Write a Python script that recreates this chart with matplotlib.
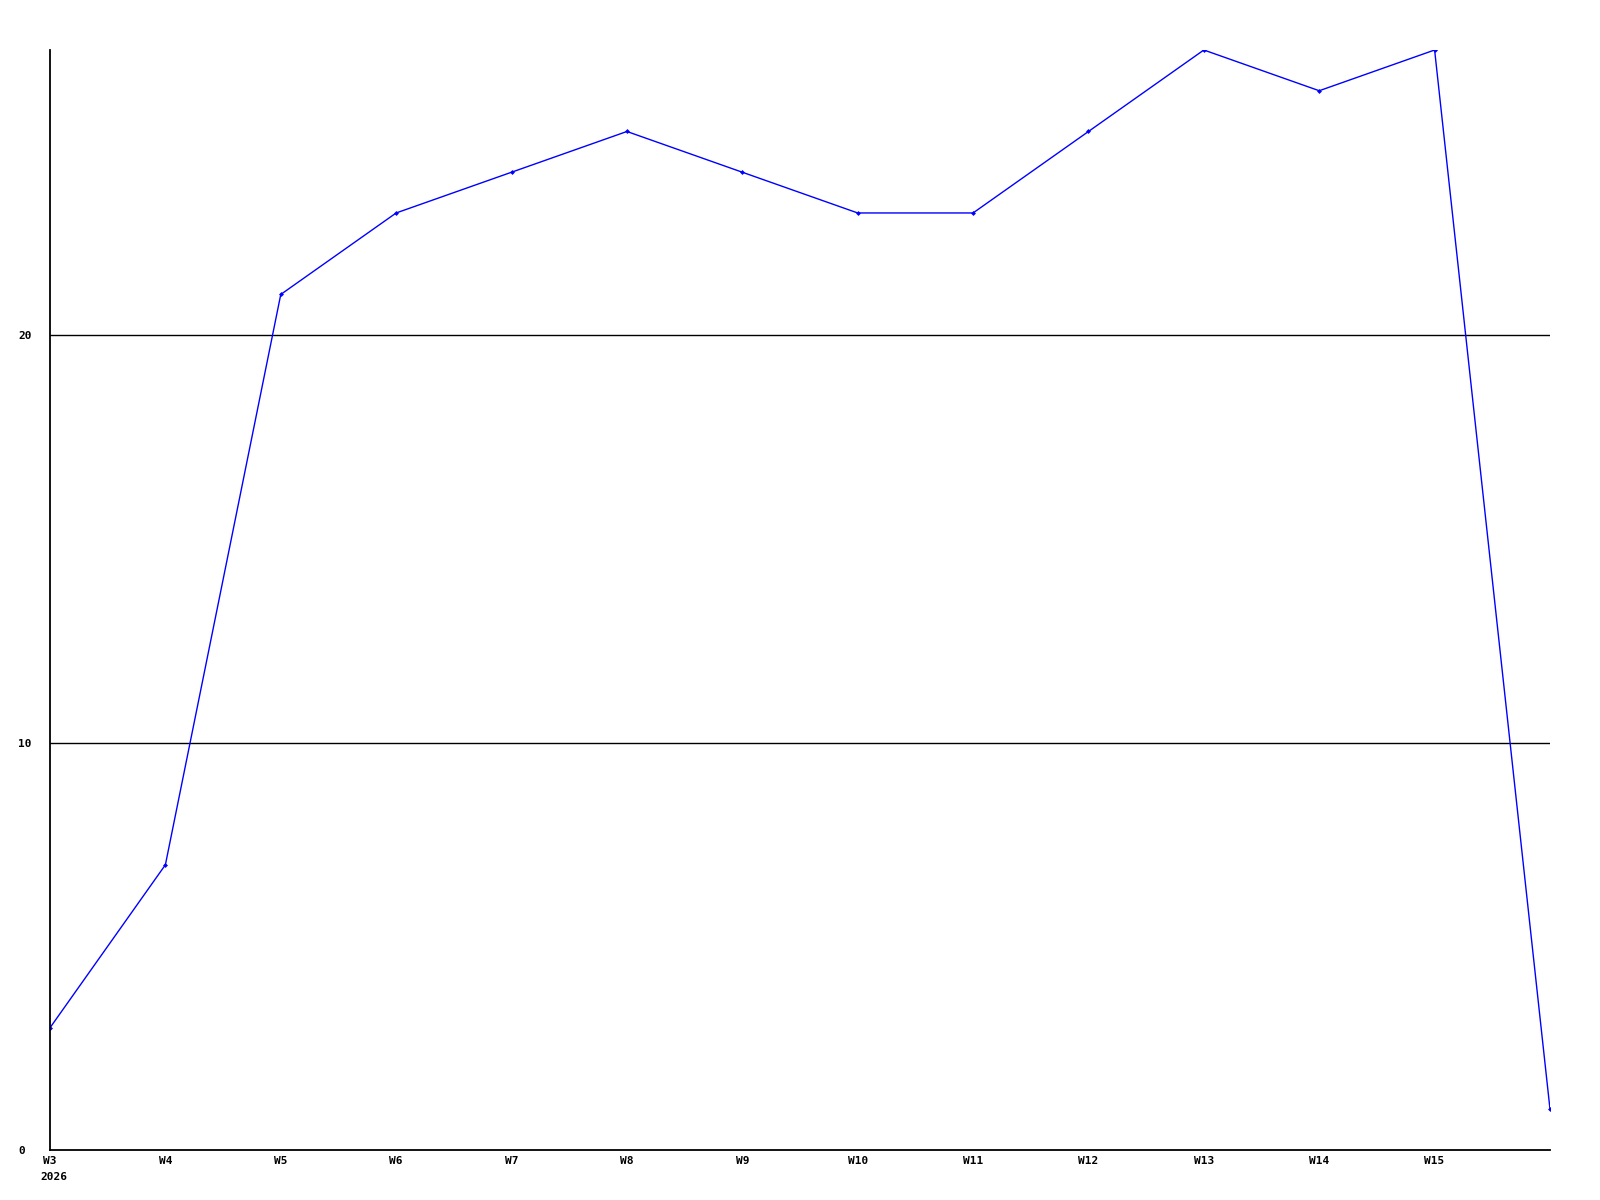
import matplotlib
matplotlib.use('Agg')
import matplotlib.pyplot as plt

weeks = ['W3', 'W4', 'W5', 'W6', 'W7', 'W8', 'W9', 'W10', 'W11', 'W12', 'W13', 'W14', 'W15', 'W16']
values = [3, 7, 21, 23, 24, 25, 24, 23, 23, 25, 27, 26, 27, 1]
tick_labels = weeks[:-1]
y_ticks = [0, 10, 20]
year = '2026'

W, H = 1600, 1200
fig = plt.figure(figsize=(16, 12), dpi=100)
ax = fig.add_axes([50 / W, 50 / H, 1500 / W, 1100 / H])

xs = list(range(len(values)))
ax.plot(xs, values, color='#0000ff', linewidth=1.0, marker='D', markersize=2.5,
        markeredgewidth=0, solid_joinstyle='miter')

ax.set_xlim(0, len(values) - 1)
ax.set_ylim(0, 27)

for y in y_ticks[1:]:
    ax.axhline(y, color='black', linewidth=1.0, zorder=0)

font = dict(family='DejaVu Sans Mono', weight='bold', size=8)
ax.set_xticks(xs[:-1])
ax.set_xticklabels(tick_labels, **font)
ax.set_yticks(y_ticks)
ax.set_yticklabels([str(v) for v in y_ticks], ha='left', **font)
ax.tick_params(axis='both', length=0)
ax.tick_params(axis='x', pad=4)
ax.tick_params(axis='y', pad=23)

for s in ('top', 'right'):
    ax.spines[s].set_visible(False)
for s in ('left', 'bottom'):
    ax.spines[s].set_linewidth(1.3)
    ax.spines[s].set_color('black')

# year under the first week label
fig.text(40 / W, 1 - 1172 / H, year, ha='left', va='top', **font)

fig.savefig('out.png', dpi=100)
